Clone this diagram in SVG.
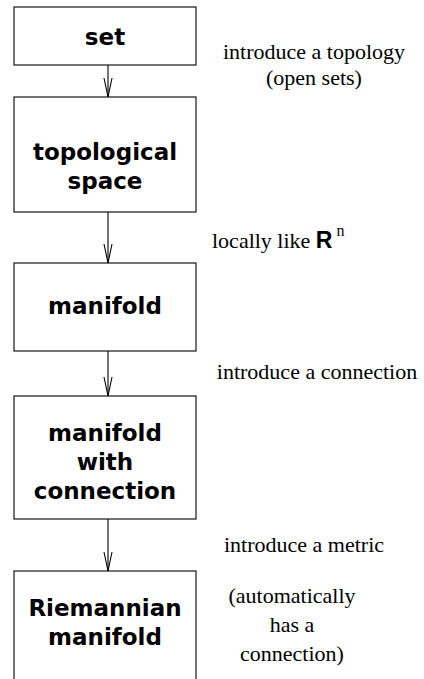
<svg xmlns="http://www.w3.org/2000/svg" width="424" height="679" viewBox="0 0 424 679">
<defs>
<style>
.box{fill:#fff;stroke:#000;stroke-width:1.1}
.lbl{font-family:"DejaVu Sans",sans-serif;font-weight:bold;font-size:23px;text-anchor:middle;fill:#000}
.note{font-family:"Liberation Serif",serif;font-size:22px;text-anchor:middle;fill:#000}
.start{text-anchor:start}
.edge{stroke:#000;stroke-width:1.1;fill:none}
</style>
<marker id="v" markerWidth="22" markerHeight="10" refX="20" refY="5" orient="auto" markerUnits="userSpaceOnUse" viewBox="0 0 22 10">
<path d="M1,1 L20,5 L1,9" fill="none" stroke="#000" stroke-width="1.1"/>
</marker>
</defs>
<rect width="424" height="679" fill="#fff"/>
<g id="edges">
<line class="edge" x1="108" y1="65" x2="108" y2="97" marker-end="url(#v)"/>
<line class="edge" x1="108" y1="212" x2="108" y2="263" marker-end="url(#v)"/>
<line class="edge" x1="108" y1="351" x2="108" y2="396" marker-end="url(#v)"/>
<line class="edge" x1="108" y1="519" x2="108" y2="571" marker-end="url(#v)"/>
</g>
<g id="n-set"><rect class="box" x="14" y="7" width="182" height="58"/><text class="lbl" x="105" y="45">set</text></g>
<g id="n-top"><rect class="box" x="14" y="97" width="182" height="115"/><text class="lbl" x="105" y="160">topological</text><text class="lbl" x="105" y="189">space</text></g>
<g id="n-man"><rect class="box" x="14" y="263" width="182" height="88"/><text class="lbl" x="105" y="314">manifold</text></g>
<g id="n-conn"><rect class="box" x="14" y="396" width="182" height="123"/><text class="lbl" x="105" y="441">manifold</text><text class="lbl" x="105" y="470">with</text><text class="lbl" x="105" y="499">connection</text></g>
<g id="n-riem"><rect class="box" x="14" y="571" width="182" height="120"/><text class="lbl" x="105" y="616">Riemannian</text><text class="lbl" x="105" y="645">manifold</text></g>
<g id="notes">
<text class="note" x="314" y="59">introduce a topology</text>
<text class="note" x="314" y="85">(open sets)</text>
<text class="note start" x="212" y="248">locally like <tspan font-family="Liberation Sans, sans-serif" font-weight="bold" font-size="23">R</tspan><tspan font-size="16" dy="-12" dx="4">n</tspan></text>
<text class="note" x="317" y="379">introduce a connection</text>
<text class="note" x="304" y="552">introduce a metric</text>
<text class="note" x="292" y="603">(automatically</text>
<text class="note" x="292" y="632">has a</text>
<text class="note" x="292" y="661">connection)</text>
</g>
</svg>
